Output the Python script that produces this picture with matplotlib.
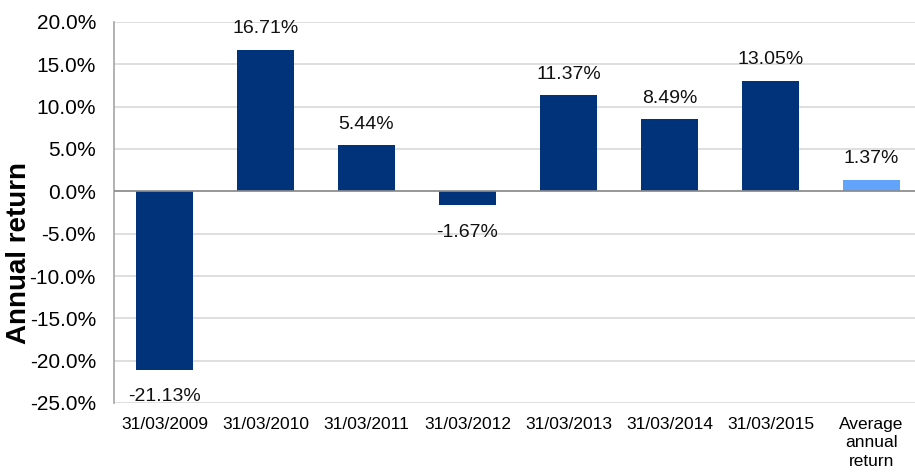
import matplotlib
matplotlib.use("Agg")
import matplotlib.pyplot as plt

categories = ["31/03/2009", "31/03/2010", "31/03/2011", "31/03/2012",
              "31/03/2013", "31/03/2014", "31/03/2015", "Average\nannual\nreturn"]
returns = [-21.13, 16.71, 5.44, -1.67, 11.37, 8.49, 13.05, 1.37]
colors = ["#00337a"] * 7 + ["#62a3fb"]
yticks = [-25, -20, -15, -10, -5, 0, 5, 10, 15, 20]

plt.rcParams["font.family"] = ["Liberation Sans", "DejaVu Sans"]

fig = plt.figure(figsize=(9.15, 4.73), dpi=100)
ax = fig.add_axes([114 / 915, 1 - 403 / 473, 808 / 915, 381 / 473])

x = list(range(len(categories)))
ax.bar(x, returns, width=0.57, color=colors, zorder=3)

for xi, v in zip(x, returns):
    if v >= 0:
        ax.annotate(f"{v:.2f}%", (xi, v), xytext=(0, 9), textcoords="offset points",
                    ha="center", va="bottom", fontsize=14, color="#111111")
    else:
        ax.annotate(f"{v:.2f}%", (xi, v), xytext=(0, -13), textcoords="offset points",
                    ha="center", va="top", fontsize=14, color="#111111")

ax.set_xlim(-0.5, len(categories) - 0.5)
ax.set_ylim(-25, 20)
ax.set_yticks(yticks)
ax.set_yticklabels([f"{t:.1f}%" for t in yticks], fontsize=15)
ax.set_xticks(x)
ax.set_xticklabels(categories, fontsize=12.5, linespacing=1.3)
ax.tick_params(axis="y", length=0, pad=13)
ax.tick_params(axis="x", length=0, pad=10)

ax.grid(axis="y", color="#d9d9d9", linewidth=1.2, zorder=0)
ax.axhline(0, color="#8c8c8c", linewidth=1.2, zorder=4)
for s in ["top", "right", "bottom"]:
    ax.spines[s].set_visible(False)
ax.spines["left"].set_color("#a6a6a6")
ax.spines["left"].set_linewidth(1.2)

ax.set_ylabel("Annual return", fontsize=20, fontweight="bold")
ax.yaxis.label.set_verticalalignment("center")
ax.yaxis.label.set_horizontalalignment("center")
ax.yaxis.set_label_coords((19 - 114) / 808, (403 - 253) / 381)

fig.savefig("out.png", dpi=100)
